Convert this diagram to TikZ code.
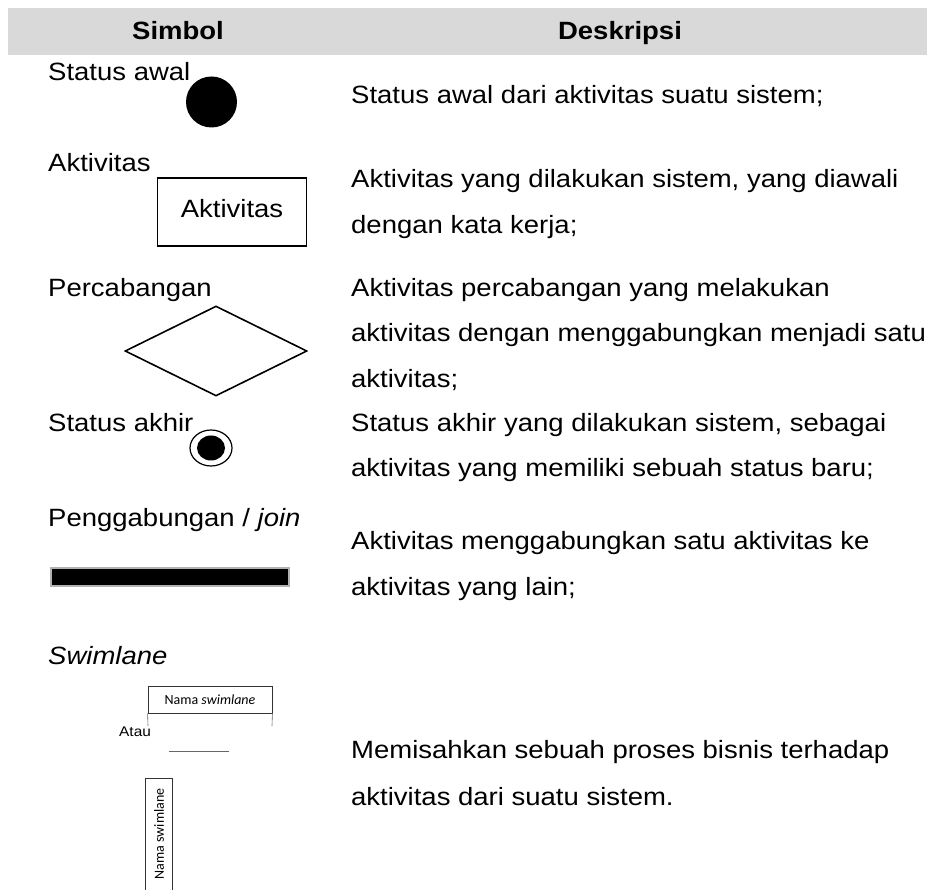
\documentclass[tikz,border=0pt]{standalone}
\usepackage{fontspec}
\setmainfont{Liberation Sans}[FakeStretch=1.1]
\newfontfamily\smallfont{Carlito}
\usetikzlibrary{shapes.geometric}
\definecolor{headgray}{HTML}{D9D9D9}
\tikzset{
  txt/.style={anchor=base west, inner sep=0pt, font=\fontsize{25}{30}\selectfont},
  head/.style={anchor=base, inner sep=0pt, font=\fontsize{25}{30}\selectfont\bfseries},
  sym/.style={draw=black, line width=1.6pt},
  tiny/.style={inner sep=0pt, font=\smallfont\fontsize{14}{16}\selectfont},
}
\begin{document}
\begin{tikzpicture}[x=1pt,y=-1pt]
\useasboundingbox (0,0) rectangle (927,890);
\fill[headgray] (8,8) rectangle (927,55);
\node[head] (hs) at (178,40) {Simbol};
\node[head] (hd) at (620,40) {Deskripsi};

% Status awal
\node[txt] (l1) at (48,81) {Status awal};
\node[circle, fill=black, minimum size=51pt, inner sep=0pt] (start) at (211.5,102) {};
\node[txt] (d1) at (351,104) {Status awal dari aktivitas suatu sistem;};

% Aktivitas
\node[txt] (l2) at (48,172) {Aktivitas};
\node[draw=black, line width=1.2pt, minimum width=149pt, minimum height=68pt, inner sep=0pt] (act) at (232,212) {};
\node[txt, anchor=base] (acttxt) at (232,218) {Aktivitas};
\node[txt] (d2a) at (351,188) {Aktivitas yang dilakukan sistem, yang diawali};
\node[txt] (d2b) at (351,234) {dengan kata kerja;};

% Percabangan
\node[txt] (l3) at (48,297) {Percabangan};
\node[diamond, sym, minimum width=182pt, minimum height=90pt, inner sep=0pt, aspect=2] (dec) at (216,351) {};
\node[txt] (d3a) at (351,297) {Aktivitas percabangan yang melakukan};
\node[txt] (d3b) at (351,342) {aktivitas dengan menggabungkan menjadi satu};
\node[txt] (d3c) at (351,388) {aktivitas;};

% Status akhir
\node[txt] (l4) at (48,432) {Status akhir};
\node[ellipse, draw=black, line width=1.2pt, minimum width=42pt, minimum height=36pt, inner sep=0pt] (endo) at (211,448) {};
\node[ellipse, fill=black, minimum width=28pt, minimum height=25pt, inner sep=0pt] (endi) at (211,448) {};
\node[txt] (d4a) at (351,432) {Status akhir yang dilakukan sistem, sebagai};
\node[txt] (d4b) at (351,477) {aktivitas yang memiliki sebuah status baru;};

% Penggabungan
\node[txt] (l5) at (48,526) {Penggabungan / \textit{join}};
\node[fill=black, draw=black!30, line width=1.2pt, minimum width=238pt, minimum height=18pt, inner sep=0pt] (bar) at (170,577) {};
\node[txt] (d5a) at (351,550) {Aktivitas menggabungkan satu aktivitas ke};
\node[txt] (d5b) at (351,595) {aktivitas yang lain;};

% Swimlane
\node[txt] (l6) at (48,664) {\textit{Swimlane}};
\node[draw=black!80, line width=0.8pt, minimum width=124pt, minimum height=27pt, inner sep=0pt, tiny] (sw) at (210,699.5) {Nama \textit{swimlane}};
\coordinate (swl) at (148,726);
\coordinate (swr) at (272,726);
\draw[black!60, line width=0.6pt] (sw.south west) -- (swl);
\draw[black!60, line width=0.6pt] (sw.south east) -- (swr);
\node[inner sep=0pt, font=\fontsize{14}{16}\selectfont, anchor=base west] (atau) at (119,736) {Atau};
\coordinate (hl1) at (169,751);
\coordinate (hl2) at (229,751);
\draw[black!60, line width=0.8pt] (hl1) -- (hl2);
\coordinate (vb1) at (145,890);
\coordinate (vb2) at (145,778);
\coordinate (vb3) at (172,778);
\coordinate (vb4) at (172,890);
\draw[black!80, line width=1pt] (vb1) -- (vb2) -- (vb3) -- (vb4);
\node[tiny, rotate=90] (swv) at (159,834) {Nama swimlane};
\node[txt] (d6a) at (351,758) {Memisahkan sebuah proses bisnis terhadap};
\node[txt] (d6b) at (351,805) {aktivitas dari suatu sistem.};
\end{tikzpicture}
\end{document}
